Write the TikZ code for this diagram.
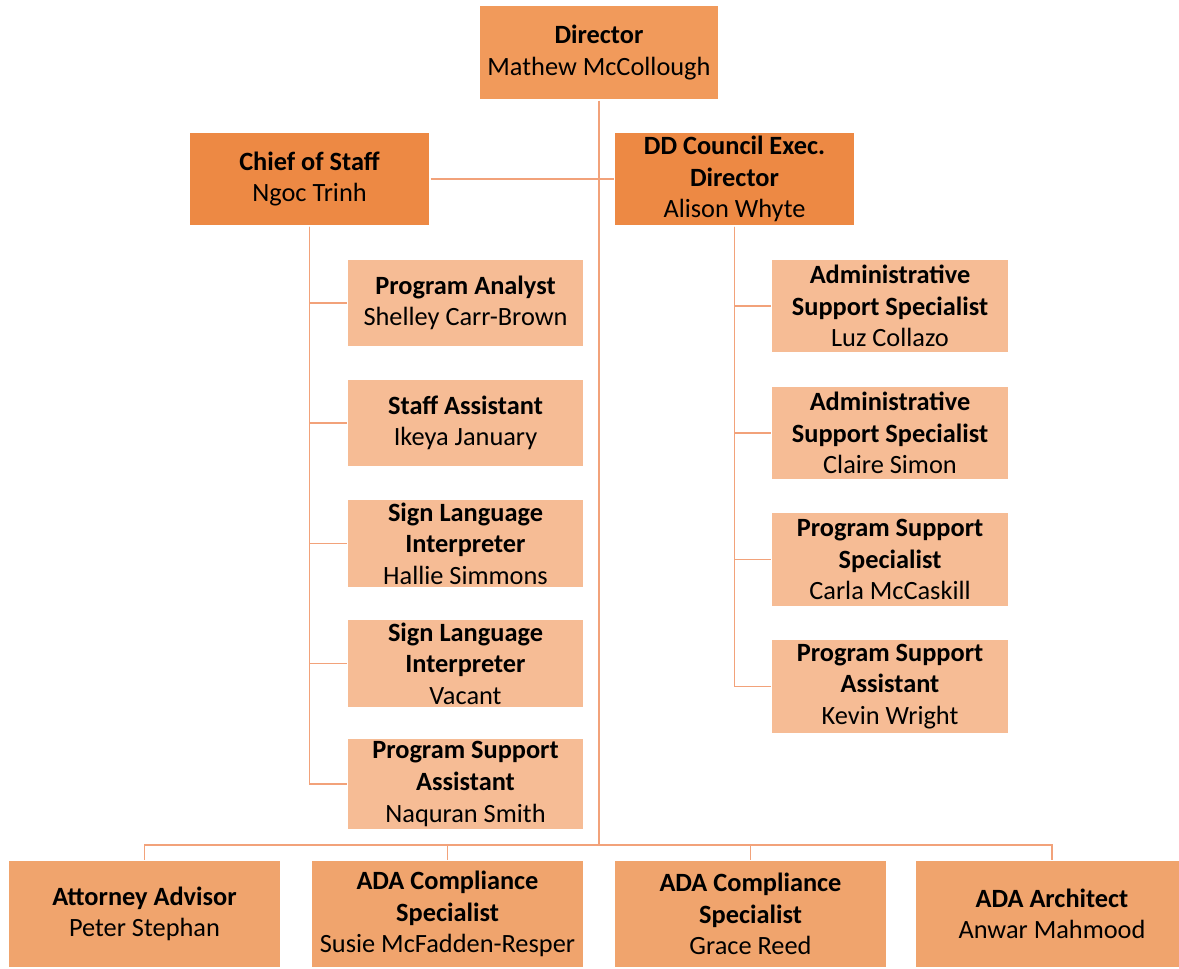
\documentclass[tikz,border=0pt]{standalone}
\usepackage{fontspec}
\setmainfont{Carlito}
\usetikzlibrary{positioning}

\definecolor{dircolor}{HTML}{F19A5B}
\definecolor{chiefcolor}{HTML}{ED8944}
\definecolor{subcolor}{HTML}{F6BC95}
\definecolor{botcolor}{HTML}{F0A46D}
\definecolor{linecolor}{HTML}{F2A27A}

\begin{document}
\begin{tikzpicture}[x=0.02cm, y=-0.02cm,
    box/.style={draw=white, line width=0.6pt, align=center, inner sep=2pt,
        font=\fontsize{15}{18}\selectfont},
    head/.style={box, fill=dircolor, minimum width=4.8cm, minimum height=1.9cm},
    chief/.style={box, fill=chiefcolor, minimum width=4.82cm, minimum height=1.88cm},
    sub/.style={box, fill=subcolor, minimum width=4.74cm, minimum height=1.76cm},
    bottom/.style={box, fill=botcolor, minimum width=5.46cm, minimum height=2.16cm},
    link/.style={draw=linecolor, line width=1pt}]

    \useasboundingbox (0,0) rectangle (1179,968);

    % Top
    \node[head]  (dir)  at (599,52.5)  {\textbf{Director}\\Mathew McCollough};
    \node[chief] (cos)  at (309.5,179) {\textbf{Chief of Staff}\\Ngoc Trinh};
    \node[chief] (ddc)  at (734.5,179) {\textbf{DD Council Exec.}\\\textbf{Director}\\Alison Whyte};

    % Left column
    \node[sub] (pa)   at (465.5,303)   {\textbf{Program Analyst}\\Shelley Carr-Brown};
    \node[sub] (sa)   at (465.5,423)   {\textbf{Staff Assistant}\\Ikeya January};
    \node[sub] (sli)  at (465.5,543.5) {\textbf{Sign Language}\\\textbf{Interpreter}\\Hallie Simmons};
    \node[sub] (slv)  at (465.5,663.5) {\textbf{Sign Language}\\\textbf{Interpreter}\\Vacant};
    \node[sub] (psa)  at (465.5,784)   {\textbf{Program Support}\\\textbf{Assistant}\\Naquran Smith};

    % Right column
    \node[sub, minimum height=1.88cm] (ass1) at (890,306)   {\textbf{Administrative}\\\textbf{Support Specialist}\\Luz Collazo};
    \node[sub, minimum height=1.88cm] (ass2) at (890,433)   {\textbf{Administrative}\\\textbf{Support Specialist}\\Claire Simon};
    \node[sub, minimum height=1.88cm] (pss)  at (890,559.5) {\textbf{Program Support}\\\textbf{Specialist}\\Carla McCaskill};
    \node[sub, minimum height=1.88cm] (psa2) at (890,686.5) {\textbf{Program Support}\\\textbf{Assistant}\\Kevin Wright};

    % Bottom row
    \node[bottom] (att)  at (144.5,914) {\textbf{Attorney Advisor}\\Peter Stephan};
    \node[bottom] (ada1) at (447.5,914) {\textbf{ADA Compliance}\\\textbf{Specialist}\\Susie McFadden-Resper};
    \node[bottom] (ada2) at (750.5,914) {\textbf{ADA Compliance}\\\textbf{Specialist}\\Grace Reed};
    \node[bottom] (arch) at (1052,914)  {\textbf{ADA Architect}\\Anwar Mahmood};

    \coordinate (bus) at (599,845);

    % Links
    \draw[link] (dir) -- (bus);
    \draw[link] (cos) -- (ddc);
    \foreach \n in {pa,sa,sli,slv,psa}
        \draw[link] (cos.south) |- (\n);
    \foreach \n in {ass1,ass2,pss,psa2}
        \draw[link] (ddc.south) |- (\n);
    \foreach \n in {att,ada1,ada2,arch}
        \draw[link] (bus) -| (\n);

\end{tikzpicture}
\end{document}
